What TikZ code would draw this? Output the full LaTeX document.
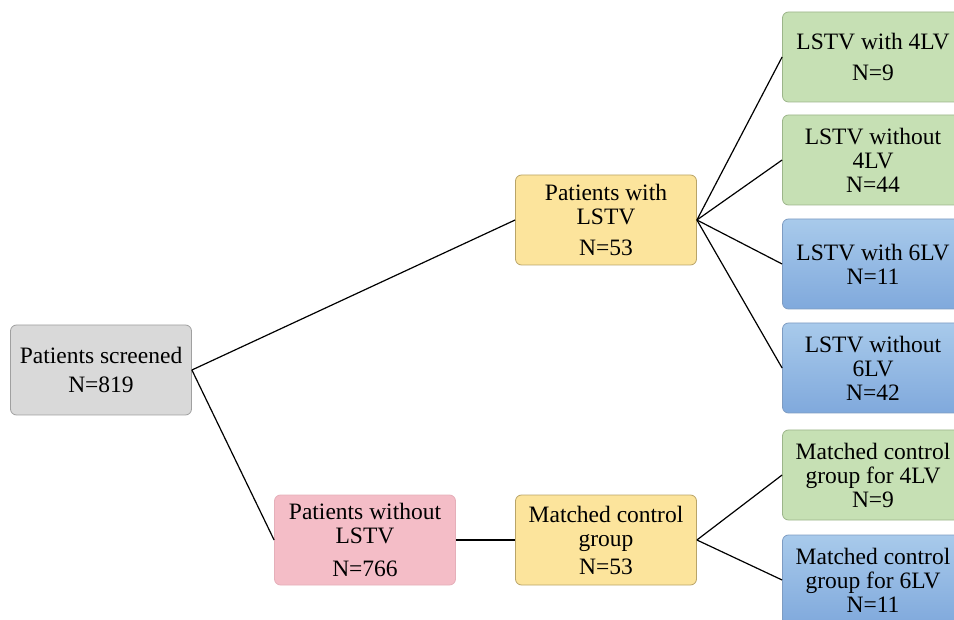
\documentclass[tikz,border=0pt]{standalone}
\usepackage{fontspec}
\setmainfont{Liberation Serif}
\newfontfamily\boxfont{Liberation Serif}
\usepackage{tikz}

\tikzset{
    box/.style={draw, rounded corners=6pt, line width=0.8pt, minimum width=181pt,
        minimum height=90pt, inner sep=0pt, align=center,
        font=\boxfont\fontsize{23.5}{24}\selectfont},
    greybox/.style={box, fill=boxgrey, draw=boxgreyline},
    yellowbox/.style={box, fill=boxyellow, draw=boxyellowline},
    pinkbox/.style={box, fill=boxpink, draw=boxpinkline},
    greenbox/.style={box, fill=boxgreen, draw=boxgreenline},
    bluebox/.style={box, top color=boxbluetop, bottom color=boxbluebot, draw=boxblueline},
    link/.style={line width=1.2pt}
}
\definecolor{boxgrey}{HTML}{D9D9D9}
\definecolor{boxgreyline}{HTML}{A0A0A0}
\definecolor{boxyellow}{HTML}{FCE49C}
\definecolor{boxyellowline}{HTML}{B9A468}
\definecolor{boxpink}{HTML}{F4BDC7}
\definecolor{boxpinkline}{HTML}{E5AFB9}
\definecolor{boxgreen}{HTML}{C6E0B4}
\definecolor{boxgreenline}{HTML}{9CB58A}
\definecolor{boxbluetop}{HTML}{A8CAEB}
\definecolor{boxbluebot}{HTML}{80A9DC}
\definecolor{boxblueline}{HTML}{7E9CC2}

\begin{document}
\begin{tikzpicture}[x=1pt, y=-1pt]
    \useasboundingbox (0,0) rectangle (954,620);
    \clip (0,0) rectangle (954,620);

    % Left and middle boxes
    \node[greybox] (screened) at (101,370) {Patients screened\\[5pt]N=819};
    \node[yellowbox] (withlstv) at (606,220) {Patients with\\LSTV\\[7pt]N=53};
    \node[pinkbox] (nolstv) at (365,540) {Patients without\\LSTV\\[9pt]N=766};
    \node[yellowbox] (matched) at (606,540) {Matched control\\group\\[4pt]N=53};

    % Right column (cut off by the page edge)
    \node[greenbox] (with4) at (873,57) {LSTV with 4LV\\[7pt]N=9};
    \node[greenbox] (without4) at (873,160) {LSTV without\\4LV\\N=44};
    \node[bluebox] (with6) at (873,264) {LSTV with 6LV\\N=11};
    \node[bluebox] (without6) at (873,368) {LSTV without\\6LV\\N=42};
    \node[greenbox] (match4) at (873,475) {Matched control\\group for 4LV\\N=9};
    \node[bluebox] (match6) at (873,580) {Matched control\\group for 6LV\\N=11};

    % Connectors
    \draw[link] (screened.east) -- (withlstv.west);
    \draw[link] (screened.east) -- (nolstv.west);
    \draw[link] (nolstv.east) -- (matched.west);
    \foreach \target in {with4, without4, with6, without6}
        \draw[link] (withlstv.east) -- (\target.west);
    \foreach \target in {match4, match6}
        \draw[link] (matched.east) -- (\target.west);
\end{tikzpicture}
\end{document}
